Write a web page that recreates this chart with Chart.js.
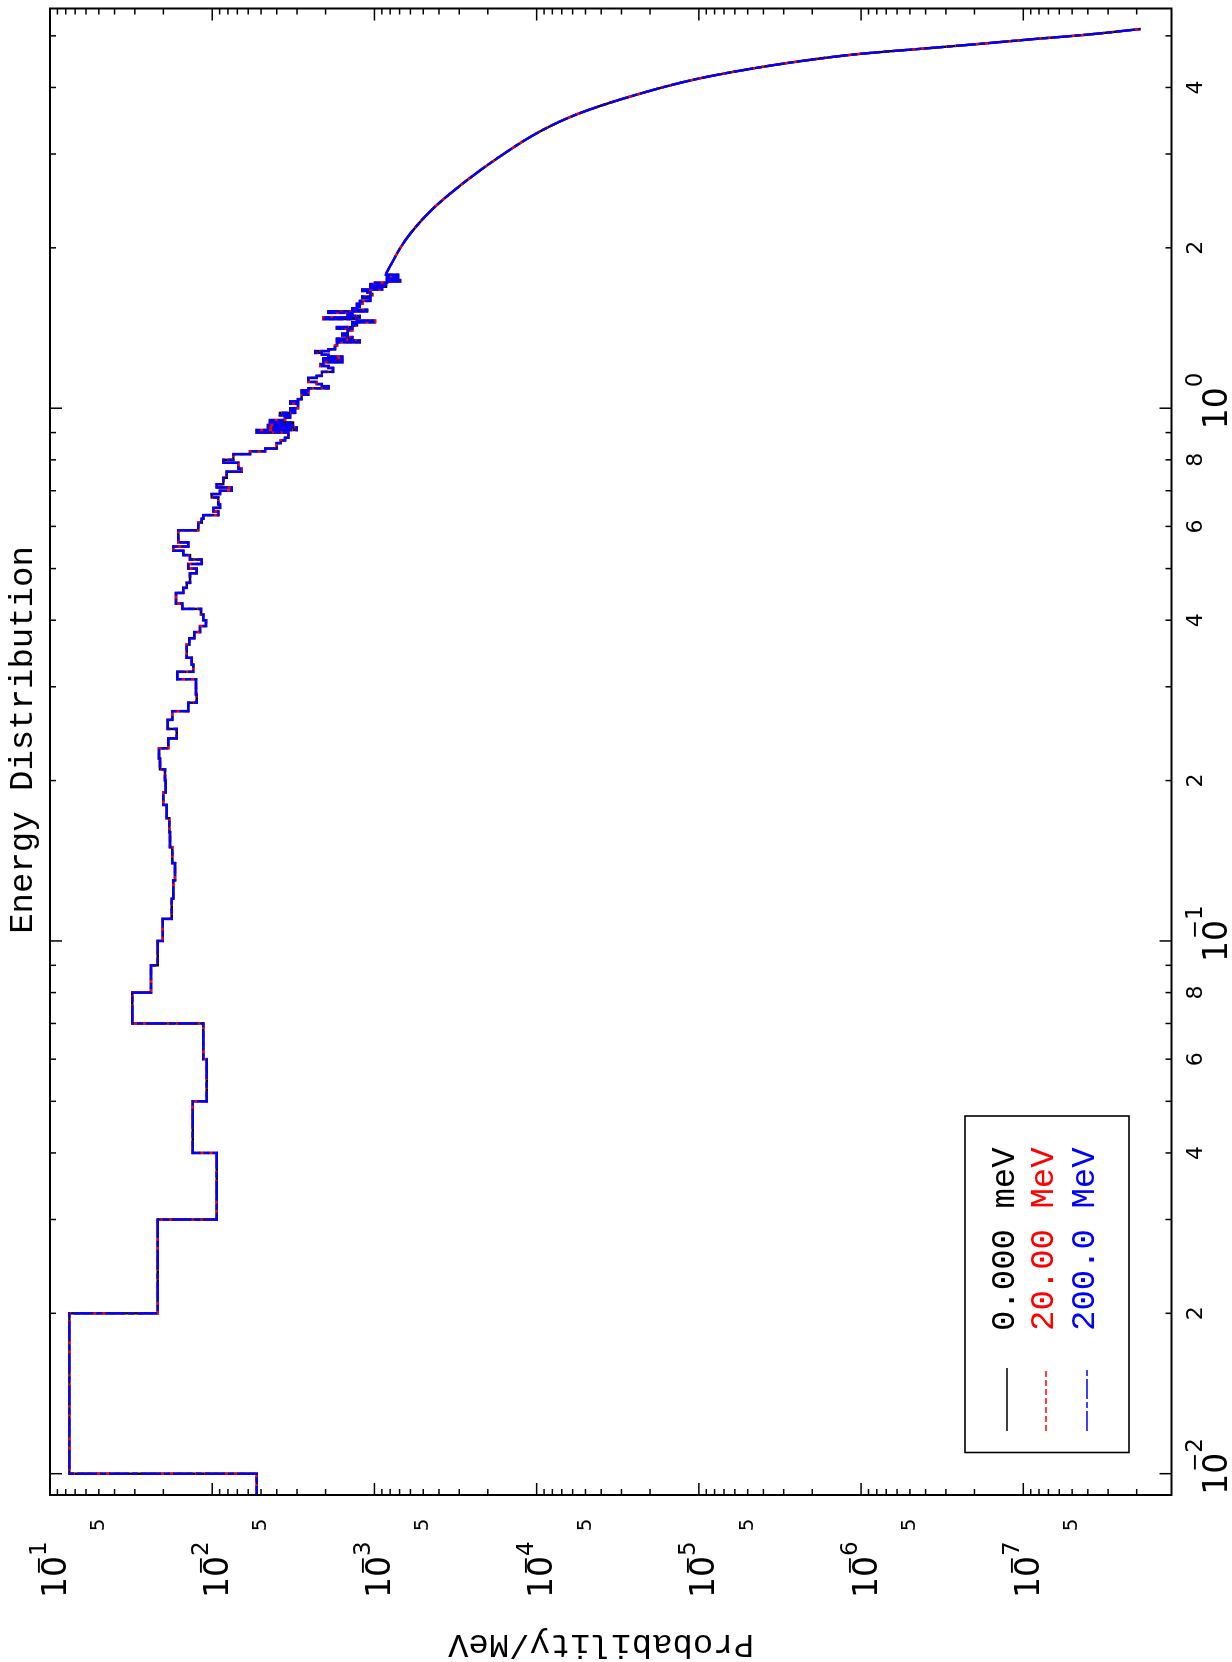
<!DOCTYPE html>
<html>
<head>
<meta charset="utf-8">
<script src="https://cdn.jsdelivr.net/npm/chart.js@4.4.1/dist/chart.umd.min.js"></script>
<style>
  html, body { margin: 0; padding: 0; background: #fff; overflow: hidden; }
  #page {
    position: absolute; left: 0; top: 0;
    width: 1662px; height: 1232px;
    transform-origin: 0 0;
    transform: translateY(1662px) rotate(-90deg);
  }
</style>
</head>
<body>
<div id="page"><canvas id="energy-chart" width="1662" height="1232" style="width:1662px;height:1232px"></canvas></div>
<script>
// histogram: left bin edges (MeV) and probability per MeV
const histEnergy = [
  0.005, 0.01, 0.02, 0.03, 0.04, 0.05, 0.06, 0.07, 0.08, 0.09,
  0.10, 0.11, 0.12, 0.13, 0.14, 0.15, 0.16, 0.17, 0.18, 0.19,
  0.20, 0.21, 0.22, 0.23, 0.24, 0.25, 0.26, 0.27, 0.28, 0.29,
  0.30, 0.31, 0.32, 0.33, 0.34, 0.35, 0.36, 0.37, 0.38, 0.39,
  0.40, 0.41, 0.42, 0.43, 0.44, 0.45, 0.46, 0.47, 0.48, 0.49,
  0.50, 0.51, 0.52, 0.53, 0.54, 0.55, 0.56, 0.57, 0.58, 0.59,
  0.60, 0.61, 0.62, 0.63, 0.64, 0.65, 0.66, 0.67, 0.68, 0.69,
  0.70, 0.71, 0.72, 0.73, 0.74, 0.75, 0.76, 0.77, 0.78, 0.79,
  0.80, 0.81, 0.82, 0.83, 0.84, 0.85, 0.86, 0.87, 0.88, 0.89,
  0.90, 0.91, 0.92, 0.93, 0.94, 0.95, 0.96, 0.97, 0.98, 0.99,
  1.00, 1.01, 1.02, 1.03, 1.04, 1.05, 1.06, 1.07, 1.08, 1.09,
  1.10, 1.11, 1.12, 1.13, 1.14, 1.15, 1.16, 1.17, 1.18, 1.19,
  1.20, 1.21, 1.22, 1.23, 1.24, 1.25, 1.26, 1.27, 1.28, 1.29,
  1.30, 1.31, 1.32, 1.33, 1.34, 1.35, 1.36, 1.37, 1.38, 1.39,
  1.40, 1.41, 1.42, 1.43, 1.44, 1.45, 1.46, 1.47, 1.48, 1.49,
  1.50, 1.51, 1.52, 1.53, 1.54, 1.55, 1.56, 1.57, 1.58, 1.59,
  1.60, 1.61, 1.62, 1.63, 1.64, 1.65, 1.66, 1.67, 1.68, 1.69,
  1.70, 1.71, 1.72, 1.73, 1.74, 1.75, 1.76, 1.77, 1.78, 1.79
];
const histProb = [
  0.00532, 0.0760, 0.02168, 0.00938, 0.01319, 0.01081, 0.01135, 0.0311, 0.02384, 0.02168,
  0.0202, 0.01777, 0.01737, 0.01696, 0.01762, 0.0182, 0.01838, 0.01907, 0.02002, 0.01935,
  0.01954, 0.02098, 0.02128, 0.01865, 0.01656, 0.01881, 0.01762, 0.01404, 0.01246, 0.01259,
  0.01259, 0.01641, 0.01308, 0.01338, 0.01436, 0.01436, 0.01384, 0.0129, 0.01189, 0.01092,
  0.01135, 0.01172, 0.01528, 0.01672, 0.01672, 0.01507, 0.01436, 0.01371, 0.01371, 0.01246,
  0.01404, 0.01161, 0.01371, 0.01507, 0.01737, 0.01404, 0.01618, 0.01618, 0.01618, 0.01218,
  0.01218, 0.01161, 0.01135, 0.00917, 0.00984, 0.00895, 0.00917, 0.00917, 0.01007, 0.00895,
  0.00758, 0.00938, 0.00854, 0.00854, 0.00814, 0.00814, 0.00658, 0.0069, 0.0069, 0.00854,
  0.00741, 0.00741, 0.00585, 0.00472, 0.0040, 0.0040, 0.00378, 0.00356, 0.00339, 0.00339,
  0.00532, 0.00301, 0.00453, 0.00318, 0.0044, 0.00356, 0.00331, 0.00383, 0.00309, 0.00331,
  0.00296, 0.00296, 0.00331, 0.00296, 0.00281, 0.00281, 0.00256, 0.00281, 0.00256, 0.00192,
  0.00211, 0.00227, 0.00256, 0.00256, 0.00227, 0.00211, 0.00211, 0.0018, 0.0018, 0.00192,
  0.00216, 0.00207, 0.00158, 0.00207, 0.00158, 0.00192, 0.00211, 0.00232, 0.00192, 0.00175,
  0.00175, 0.0017, 0.0017, 0.00123, 0.0017, 0.00137, 0.00146, 0.00158, 0.00146, 0.00146,
  0.00137, 0.0017, 0.00137, 0.00128, 0.00137, 0.000992, 0.00128, 0.00207, 0.00123, 0.00146,
  0.00137, 0.00192, 0.00111, 0.00137, 0.00128, 0.00123, 0.00128, 0.00119, 0.00123, 0.00106,
  0.00106, 0.00119, 0.00106, 0.00103, 0.00106, 0.00111, 0.00119, 0.000898, 0.00106, 0.000848,
  0.00106, 0.000992, 0.000836, 0.000695, 0.000836, 0.000715, 0.000836, 0.000715, 0.000848, 0.000848
];
// smooth tail above ~1.8 MeV
const tailEnergy = [1.79, 2.069, 2.356, 2.644, 2.966, 3.304, 3.566, 3.845, 4.131, 4.282, 4.472, 4.623, 4.738, 4.828, 4.926, 5.018, 5.15];
const tailProb = [8.48e-4, 6.43e-4, 4.44e-4, 2.84e-4, 1.69e-4, 9.6e-5, 5.6e-5, 2.66e-5, 1.1e-5, 6.07e-6, 2.49e-6, 1.03e-6, 3.92e-7, 1.87e-7, 8.93e-8, 4.26e-8, 1.89e-8];

const seriesNames = ['0.000 meV', '20.00 MeV', '200.0 MeV'];
const seriesColors = ['#000000', '#ff0000', '#0000ff'];
const seriesDash = [[], [6, 3], [20, 3, 6, 3]];

// tick labels
const energyDecades = [0.01, 0.1, 1];
const energyDecadeExp = ['\u22122', '\u22121', '0'];
const energyMinor = [0.02, 0.04, 0.06, 0.08, 0.2, 0.4, 0.6, 0.8, 2, 4];
const energyMinorText = ['2', '4', '6', '8', '2', '4', '6', '8', '2', '4'];
const probDecades = [1e-1, 1e-2, 1e-3, 1e-4, 1e-5, 1e-6, 1e-7];
const probDecadeExp = ['\u22121', '\u22122', '\u22123', '\u22124', '\u22125', '\u22126', '\u22127'];
const probFives = [5e-2, 5e-3, 5e-4, 5e-5, 5e-6, 5e-7, 5e-8];

const energy_chart = document.getElementById('energy-chart');

function toPoints(xs, ys) {
  return xs.map((x, i) => ({ x: x, y: ys[i] }));
}

const datasets = [];
for (let s = 0; s < 3; s++) {
  const base = {
    label: seriesNames[s],
    borderColor: seriesColors[s],
    borderWidth: 2.4,
    borderDash: seriesDash[s],
    pointRadius: 0,
    fill: false,
    order: 3 - s
  };
  datasets.push(Object.assign({}, base, { data: toPoints(histEnergy, histProb), stepped: 'before' }));
  datasets.push(Object.assign({}, base, { data: toPoints(tailEnergy, tailProb), cubicInterpolationMode: 'monotone' }));
}

function line(ctx, x1, y1, x2, y2) {
  ctx.beginPath(); ctx.moveTo(x1, y1); ctx.lineTo(x2, y2); ctx.stroke();
}

function powerLabel(ctx, exp, cx, cy, ey) {
  ctx.font = '33px "DejaVu Sans"';
  ctx.textAlign = 'center';
  ctx.textBaseline = 'middle';
  ctx.fillText('10', cx, cy);
  const w = ctx.measureText('10').width;
  ctx.font = '23px "DejaVu Sans"';
  ctx.textAlign = 'left';
  let start = cx + w / 2;
  if (exp.charAt(0) === '\u2212') start -= ctx.measureText('\u2212').width;
  ctx.fillText(exp, start, cy + ey);
}

const framePlugin = {
  id: 'pgframe',
  afterDraw(chart) {
    const ctx = chart.ctx;
    const a = chart.chartArea;
    const x = chart.scales.x, y = chart.scales.y;
    ctx.save();
    ctx.strokeStyle = '#000';
    ctx.fillStyle = '#000';
    ctx.lineWidth = 2;
    ctx.strokeRect(a.left, a.top, a.right - a.left, a.bottom - a.top);

    ctx.lineWidth = 1.5;
    for (let d = -3; d <= 1; d++) {
      for (let m = 1; m <= 9; m++) {
        const v = m * Math.pow(10, d);
        if (v < x.min || v > x.max) continue;
        const px = x.getPixelForValue(v);
        const len = m === 1 ? 12 : 6;
        line(ctx, px, a.bottom, px, a.bottom - len);
        line(ctx, px, a.top, px, a.top + len);
      }
    }
    for (let d = -9; d <= -1; d++) {
      for (let m = 1; m <= 9; m++) {
        const v = m * Math.pow(10, d);
        if (v < y.min || v > y.max) continue;
        const py = y.getPixelForValue(v);
        const len = m === 1 ? 12 : 6;
        line(ctx, a.left, py, a.left + len, py);
        line(ctx, a.right, py, a.right - len, py);
      }
    }

    // energy axis labels
    energyDecades.forEach((v, i) => {
      powerLabel(ctx, energyDecadeExp[i], x.getPixelForValue(v), a.bottom + 47, -22);
    });
    ctx.font = '22px "DejaVu Sans"';
    ctx.textAlign = 'center';
    ctx.textBaseline = 'middle';
    energyMinor.forEach((v, i) => {
      ctx.fillText(energyMinorText[i], x.getPixelForValue(v), a.bottom + 25);
    });

    // probability axis labels
    probDecades.forEach((v, i) => {
      powerLabel(ctx, probDecadeExp[i], a.left - 82, y.getPixelForValue(v) + 7, -17);
    });
    ctx.font = '20px "DejaVu Sans"';
    ctx.textAlign = 'center';
    ctx.textBaseline = 'middle';
    probFives.forEach((v) => {
      ctx.fillText('5', a.left - 30, y.getPixelForValue(v));
    });

    // title and axis title
    ctx.font = '34px "Liberation Mono"';
    ctx.textAlign = 'center';
    ctx.textBaseline = 'alphabetic';
    ctx.fillText('Energy Distribution', 922, 32);
    ctx.save();
    ctx.translate(27, 601);
    ctx.rotate(-Math.PI / 2);
    ctx.fillText('Probability/MeV', 0, 0);
    ctx.restore();

    // legend box
    ctx.lineWidth = 1.6;
    ctx.strokeRect(209.5, 965, 336.5, 164);
    const rows = [1007, 1046, 1087];
    ctx.font = '34px "Liberation Mono"';
    ctx.textAlign = 'left';
    ctx.textBaseline = 'middle';
    for (let s = 0; s < 3; s++) {
      ctx.strokeStyle = seriesColors[s];
      ctx.setLineDash(seriesDash[s]);
      ctx.lineWidth = 1.5;
      line(ctx, 231, rows[s], 294, rows[s]);
      ctx.setLineDash([]);
      ctx.fillStyle = seriesColors[s];
      ctx.fillText(seriesNames[s], 331, rows[s] - 2);
    }
    ctx.restore();
  }
};

new Chart(energy_chart, {
  type: 'line',
  data: { datasets: datasets },
  options: {
    responsive: false,
    animation: false,
    devicePixelRatio: 1,
    layout: { padding: { left: 0, top: 50, right: 8.5, bottom: 0 } },
    scales: {
      x: {
        type: 'logarithmic',
        min: 0.00912,
        max: 5.627,
        ticks: { display: false },
        grid: { display: false },
        border: { display: false },
        afterFit(s) { s.height = 60.5; }
      },
      y: {
        type: 'logarithmic',
        min: 1.22e-8,
        max: 0.1,
        ticks: { display: false },
        grid: { display: false },
        border: { display: false },
        afterFit(s) { s.width = 167; }
      }
    },
    plugins: {
      legend: { display: false },
      tooltip: { enabled: false },
      title: { display: false }
    }
  },
  plugins: [framePlugin]
});
</script>
</body>
</html>
